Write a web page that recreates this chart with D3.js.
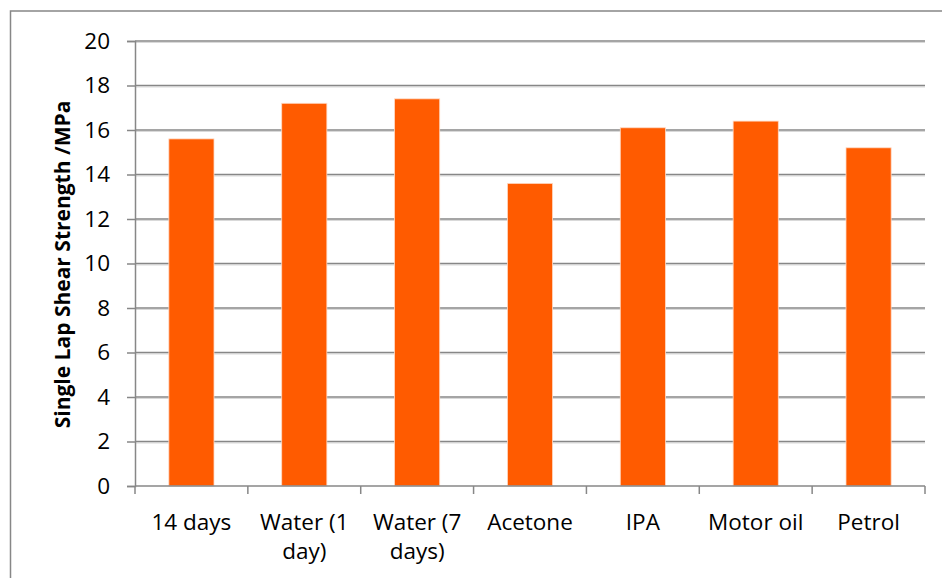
<!DOCTYPE html>
<html>
<head>
<meta charset="utf-8">
<script src="https://cdn.jsdelivr.net/npm/d3@7"></script>
<style>
  body { margin: 0; background: #fff; }
  svg { display: block; font-family: "Open Sans", sans-serif; }
</style>
</head>
<body>
<svg id="chart" width="942" height="578"></svg>
<script>
// chart data
const categories = ['14 days', 'Water (1 day)', 'Water (7 days)', 'Acetone', 'IPA', 'Motor oil', 'Petrol'];
const strengths = [15.6, 17.2, 17.4, 13.6, 16.1, 16.4, 15.2];
const yTicks = [0, 2, 4, 6, 8, 10, 12, 14, 16, 18, 20];
const yTitle = 'Single Lap Shear Strength /MPa';

const width = 942;
const height = 578;
const margin = { top: 41, right: 17, bottom: 92, left: 135 };
const gridColor = '#878787';
const barColor = '#ff5b00';

const svg = d3.select('#chart');

// outer frame, runs off the right/bottom edge like the original
svg.append('rect')
  .attr('x', 10.5)
  .attr('y', 11)
  .attr('width', 960)
  .attr('height', 600)
  .attr('fill', 'none')
  .attr('stroke', gridColor)
  .attr('stroke-width', 1.5);

const x = d3.scaleBand()
  .domain(categories)
  .range([margin.left, width - margin.right])
  .paddingInner(0.6)
  .paddingOuter(0.3);

const y = d3.scaleLinear()
  .domain([0, 20])
  .range([height - margin.bottom, margin.top]);

// gridlines (with faint shadow under them)
const grid = svg.append('g');
grid.selectAll('line.shadow')
  .data(yTicks.filter(t => t > 0))
  .enter().append('line')
  .attr('class', 'shadow')
  .attr('x1', margin.left)
  .attr('x2', width - margin.right)
  .attr('y1', d => y(d) + 1.5)
  .attr('y2', d => y(d) + 1.5)
  .attr('stroke', '#d9d9d9')
  .attr('stroke-width', 1);
grid.selectAll('line.major')
  .data(yTicks.filter(t => t > 0))
  .enter().append('line')
  .attr('class', 'major')
  .attr('x1', margin.left)
  .attr('x2', width - margin.right)
  .attr('y1', d => y(d))
  .attr('y2', d => y(d))
  .attr('stroke', gridColor)
  .attr('stroke-width', 1.5);

// bars
svg.append('g')
  .selectAll('rect')
  .data(categories)
  .enter().append('rect')
  .attr('x', d => x(d))
  .attr('width', x.bandwidth())
  .attr('y', (d, i) => y(strengths[i]))
  .attr('height', (d, i) => y(0) - y(strengths[i]))
  .attr('fill', barColor)
  .attr('stroke', '#ffd9c4')
  .attr('stroke-width', 0.8);

// y axis
const yAxis = svg.append('g')
  .attr('transform', `translate(${margin.left},0)`)
  .call(d3.axisLeft(y).tickValues(yTicks).tickSize(8).tickPadding(17).tickFormat(d3.format('d')));
yAxis.select('.domain').attr('stroke', gridColor).attr('stroke-width', 1.5);
yAxis.selectAll('.tick line').attr('stroke', gridColor).attr('stroke-width', 1.5);
yAxis.selectAll('.tick text')
  .attr('fill', '#000')
  .style('font-size', '22.5px')
  .style('font-family', '"Open Sans", sans-serif');

// x axis: ticks sit on the band boundaries
const step = x.step();
const boundaries = d3.range(categories.length + 1).map(i => margin.left + i * (width - margin.left - margin.right) / categories.length);
const xAxisG = svg.append('g');
xAxisG.append('line')
  .attr('x1', margin.left)
  .attr('x2', width - margin.right)
  .attr('y1', y(0))
  .attr('y2', y(0))
  .attr('stroke', gridColor)
  .attr('stroke-width', 1.5);
xAxisG.selectAll('line.tick')
  .data(boundaries)
  .enter().append('line')
  .attr('class', 'tick')
  .attr('x1', d => d)
  .attr('x2', d => d)
  .attr('y1', y(0))
  .attr('y2', y(0) + 8)
  .attr('stroke', gridColor)
  .attr('stroke-width', 1.5);

const labels = xAxisG.selectAll('text')
  .data(categories)
  .enter().append('text')
  .attr('x', d => x(d) + x.bandwidth() / 2)
  .attr('y', 530)
  .attr('text-anchor', 'middle')
  .style('font-size', '22.5px')
  .text(d => d);

// wrap labels wider than the band
labels.each(function (d) {
  const el = d3.select(this);
  const words = d.split(' ');
  const maxW = step - 2;
  let line = [];
  el.text(null);
  let tspan = el.append('tspan').attr('x', el.attr('x')).attr('dy', 0);
  words.forEach(w => {
    line.push(w);
    tspan.text(line.join(' '));
    if (tspan.node().getComputedTextLength() > maxW && line.length > 1) {
      line.pop();
      tspan.text(line.join(' '));
      line = [w];
      tspan = el.append('tspan').attr('x', el.attr('x')).attr('dy', 29).text(w);
    }
  });
});

// y title
svg.append('text')
  .attr('transform', `translate(62,${(92 + 437) / 2}) rotate(-90)`)
  .attr('text-anchor', 'middle')
  .attr('dominant-baseline', 'central')
  .style('font-size', '21px')
  .style('font-weight', 'bold')
  .text(yTitle);
</script>
</body>
</html>
